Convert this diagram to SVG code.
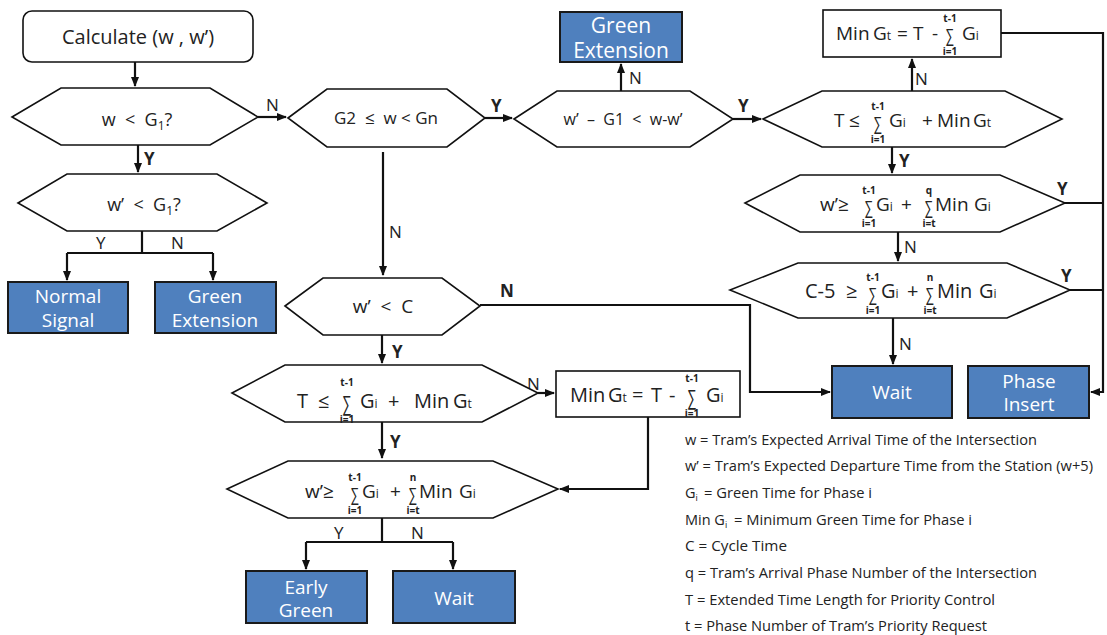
<svg xmlns="http://www.w3.org/2000/svg" width="1107" height="635" viewBox="0 0 1107 635">
<style>
text{font-family:"Open Sans","Noto Sans","DejaVu Sans",sans-serif;fill:#222;white-space:pre}
.shape{fill:#fff;stroke:#111;stroke-width:1.6}
.blue{fill:#4f80be;stroke:#1a1a1a;stroke-width:2}
.bt{fill:#fff;font-size:19px;text-anchor:middle}
.c{fill:none;stroke:#111;stroke-width:2.2}
.f{font-size:18px}
.s{font-size:12px}
.sig{font-family:"Liberation Sans","DejaVu Sans",sans-serif;font-size:19px;text-anchor:middle}
.lim{font-size:10px;font-weight:bold;text-anchor:middle}
.lb{font-size:17px}
.lbb{font-size:17px;font-weight:bold}
.lg{font-size:14.5px}
.lgs{font-size:9px}
</style>
<defs>
<marker id="ah" markerUnits="userSpaceOnUse" markerWidth="10" markerHeight="10" viewBox="0 0 10 10" refX="9" refY="5" orient="auto">
<path d="M0,1 L10,5 L0,9 Z" fill="#111"/>
</marker>
</defs>

<g id="connectors">
<path class="c" d="M135,62 V86" marker-end="url(#ah)"/>
<path class="c" d="M138,145 V172" marker-end="url(#ah)"/>
<path class="c" d="M142,231 V253 M67,253 H213"/>
<path class="c" d="M67,253 V280" marker-end="url(#ah)"/>
<path class="c" d="M213,253 V280" marker-end="url(#ah)"/>
<path class="c" d="M258,117 H286" marker-end="url(#ah)"/>
<path class="c" d="M485,118 H512" marker-end="url(#ah)"/>
<path class="c" d="M621,91 V64" marker-end="url(#ah)"/>
<path class="c" d="M733,119 H761" marker-end="url(#ah)"/>
<path class="c" d="M912,91 V59" marker-end="url(#ah)"/>
<path class="c" d="M1001,33 H1103 V392 H1091" marker-end="url(#ah)"/>
<path class="c" d="M892,147 V173" marker-end="url(#ah)"/>
<path class="c" d="M1065,203 H1103"/>
<path class="c" d="M898,232 V261" marker-end="url(#ah)"/>
<path class="c" d="M1070,290 H1103"/>
<path class="c" d="M893,318 V364" marker-end="url(#ah)"/>
<path class="c" d="M383,152 V275" marker-end="url(#ah)"/>
<path class="c" d="M480,305 H750 V392 H830" marker-end="url(#ah)"/>
<path class="c" d="M382,335 V363" marker-end="url(#ah)"/>
<path class="c" d="M538,393 H554" marker-end="url(#ah)"/>
<path class="c" d="M382,422 V458" marker-end="url(#ah)"/>
<path class="c" d="M648,417 V489 H560" marker-end="url(#ah)"/>
<path class="c" d="M382,518 V542 M306,542 H453"/>
<path class="c" d="M306,542 V569" marker-end="url(#ah)"/>
<path class="c" d="M453,542 V569" marker-end="url(#ah)"/>
</g>

<g id="labels">
<text class="lb" x="266" y="111">N</text>
<text class="lbb" x="144" y="165">Y</text>
<text class="lb" x="96" y="249">Y</text>
<text class="lb" x="171" y="249">N</text>
<text class="lbb" x="491" y="112">Y</text>
<text class="lb" x="629" y="84">N</text>
<text class="lbb" x="738" y="112">Y</text>
<text class="lb" x="915" y="85">N</text>
<text class="lbb" x="899" y="167">Y</text>
<text class="lbb" x="1057" y="195">Y</text>
<text class="lb" x="904" y="253">N</text>
<text class="lbb" x="1061" y="282">Y</text>
<text class="lb" x="899" y="350">N</text>
<text class="lb" x="389" y="238">N</text>
<text class="lbb" x="500" y="297">N</text>
<text class="lbb" x="392" y="358">Y</text>
<text class="lb" x="527" y="390">N</text>
<text class="lbb" x="390" y="448">Y</text>
<text class="lb" x="334" y="539">Y</text>
<text class="lb" x="411" y="539">N</text>
</g>

<g id="calc">
<rect class="shape" x="23" y="11" width="230" height="51" rx="9"/>
<text x="138" y="44" font-size="20" text-anchor="middle">Calculate (w , w’)</text>
</g>

<g id="d1">
<polygon class="shape" points="12,117 61,88 210,88 258,117 210,145 61,145"/>
<text x="137" y="126" font-size="18" text-anchor="middle">w  &lt;  G<tspan font-size="12" dy="4">1</tspan><tspan dy="-4">?</tspan></text>
</g>

<g id="d2">
<polygon class="shape" points="18,203 67,174 217,174 267,203 217,231 67,231"/>
<text x="144" y="211" font-size="18" text-anchor="middle">w’  &lt;  G<tspan font-size="12" dy="4">1</tspan><tspan dy="-4">?</tspan></text>
</g>

<g id="normal">
<rect class="blue" x="8" y="282" width="120" height="51"/>
<text class="bt" x="68" y="303">Normal</text>
<text class="bt" x="68" y="327">Signal</text>
</g>

<g id="ge1">
<rect class="blue" x="155" y="282" width="121" height="51"/>
<text class="bt" x="215" y="303">Green</text>
<text class="bt" x="215" y="327">Extension</text>
</g>

<g id="d3">
<polygon class="shape" points="288,118 327,89 447,89 485,118 447,147 327,147"/>
<text x="386" y="124" font-size="17" text-anchor="middle">G2  ≤  w &lt; Gn</text>
</g>

<g id="d4">
<polygon class="shape" points="514,119 557,91 690,91 733,119 690,147 557,147"/>
<text x="623" y="125" font-size="16" text-anchor="middle">w’  –  G1  &lt;  w-w’</text>
</g>

<g id="ge2">
<rect class="blue" x="560" y="12" width="122" height="50"/>
<text class="bt" x="621" y="33" style="font-size:21px">Green</text>
<text class="bt" x="621" y="58" style="font-size:21px">Extension</text>
</g>

<g id="d5">
<polygon class="shape" points="763,119 822,91 1005,91 1062,119 1005,147 822,147"/>
<text class="f" y="127" style="font-size:19px"><tspan x="834">T</tspan><tspan x="849">≤</tspan><tspan x="889">G</tspan><tspan class="s">i</tspan><tspan x="922">+</tspan><tspan x="937">Min</tspan><tspan x="973">G</tspan><tspan class="s">t</tspan></text>
<text class="sig" transform="translate(878,130) scale(0.65,1)">∑</text>
<text class="lim" x="878" y="110">t-1</text>
<text class="lim" x="878" y="143">i=1</text>
</g>

<g id="mingt1">
<rect class="shape" x="823" y="10" width="178" height="47"/>
<text class="f" y="40" style="font-size:19px"><tspan x="836">Min</tspan><tspan x="873">G</tspan><tspan class="s">t</tspan><tspan x="897">=</tspan><tspan x="913">T</tspan><tspan x="932">-</tspan><tspan x="962">G</tspan><tspan class="s">i</tspan></text>
<text class="sig" transform="translate(950,42) scale(0.65,1)">∑</text>
<text class="lim" x="950" y="22">t-1</text>
<text class="lim" x="950" y="55">i=1</text>
</g>

<g id="d6">
<polygon class="shape" points="745,203 800,175 1000,175 1065,203 1000,232 800,232"/>
<text class="f" y="211" style="font-size:19px"><tspan x="820">w’≥</tspan><tspan x="876">G</tspan><tspan class="s">i</tspan><tspan x="901">+</tspan><tspan x="935">Min</tspan><tspan x="974">G</tspan><tspan class="s">i</tspan></text>
<text class="sig" transform="translate(869,214) scale(0.65,1)">∑</text>
<text class="lim" x="869" y="194">t-1</text>
<text class="lim" x="869" y="227">i=1</text>
<text class="sig" transform="translate(929,214) scale(0.65,1)">∑</text>
<text class="lim" x="929" y="194">q</text>
<text class="lim" x="929" y="227">i=t</text>
</g>

<g id="d7">
<polygon class="shape" points="730,290 798,263 1007,263 1070,290 1007,318 798,318"/>
<text class="f" y="298" style="font-size:20px"><tspan x="805">C-5</tspan><tspan x="846">≥</tspan><tspan x="881">G</tspan><tspan class="s">i</tspan><tspan x="907">+</tspan><tspan x="937">Min</tspan><tspan x="979">G</tspan><tspan class="s">i</tspan></text>
<text class="sig" transform="translate(873,301) scale(0.65,1)">∑</text>
<text class="lim" x="873" y="281">t-1</text>
<text class="lim" x="873" y="314">i=1</text>
<text class="sig" transform="translate(930,301) scale(0.65,1)">∑</text>
<text class="lim" x="930" y="281">n</text>
<text class="lim" x="930" y="314">i=t</text>
</g>

<g id="wait1">
<rect class="blue" x="832" y="366" width="120" height="52"/>
<text class="bt" x="892" y="399">Wait</text>
</g>

<g id="phase">
<rect class="blue" x="968" y="366" width="121" height="52"/>
<text class="bt" x="1029" y="388">Phase</text>
<text class="bt" x="1029" y="411">Insert</text>
</g>

<g id="d8">
<polygon class="shape" points="285,306 323,278 442,278 480,306 442,335 323,335"/>
<text x="383" y="313" font-size="19" text-anchor="middle">w’  &lt;  C</text>
</g>

<g id="d9">
<polygon class="shape" points="232,393 285,365 482,365 538,393 482,422 285,422"/>
<text class="f" y="408" style="font-size:20px"><tspan x="297">T</tspan><tspan x="318">≤</tspan><tspan x="360">G</tspan><tspan class="s">i</tspan><tspan x="388">+</tspan><tspan x="414">Min</tspan><tspan x="453">G</tspan><tspan class="s">t</tspan></text>
<text class="sig" transform="translate(347,411) scale(0.6,1)" style="font-size:22px">∑</text>
<text class="lim" x="347" y="386">t-1</text>
<text class="lim" x="347" y="423">i=1</text>
</g>

<g id="mingt2">
<rect class="shape" x="556" y="371" width="184" height="46"/>
<text class="f" y="402" style="font-size:20px"><tspan x="570">Min</tspan><tspan x="608">G</tspan><tspan class="s">t</tspan><tspan x="632">=</tspan><tspan x="651">T</tspan><tspan x="669">-</tspan><tspan x="706">G</tspan><tspan class="s">i</tspan></text>
<text class="sig" transform="translate(692,405) scale(0.6,1)" style="font-size:22px">∑</text>
<text class="lim" x="692" y="382">t-1</text>
<text class="lim" x="692" y="417">i=1</text>
</g>

<g id="d10">
<polygon class="shape" points="227,489 288,461 493,461 558,489 493,518 288,518"/>
<text class="f" y="498" style="font-size:19px"><tspan x="305">w’≥</tspan><tspan x="362">G</tspan><tspan class="s">i</tspan><tspan x="390">+</tspan><tspan x="419">Min</tspan><tspan x="459">G</tspan><tspan class="s">i</tspan></text>
<text class="sig" transform="translate(355,501) scale(0.65,1)">∑</text>
<text class="lim" x="355" y="481">t-1</text>
<text class="lim" x="355" y="514">i=1</text>
<text class="sig" transform="translate(413,501) scale(0.65,1)">∑</text>
<text class="lim" x="413" y="481">n</text>
<text class="lim" x="413" y="514">i=t</text>
</g>

<g id="early">
<rect class="blue" x="246" y="571" width="121" height="52"/>
<text class="bt" x="306" y="594">Early</text>
<text class="bt" x="306" y="617">Green</text>
</g>

<g id="wait2">
<rect class="blue" x="393" y="571" width="122" height="52"/>
<text class="bt" x="454" y="605">Wait</text>
</g>

<g id="legend">
<text class="lg" x="685" y="445" textLength="352" lengthAdjust="spacingAndGlyphs">w = Tram’s Expected Arrival Time of the Intersection</text>
<text class="lg" x="685" y="471" textLength="408" lengthAdjust="spacingAndGlyphs">w’ = Tram’s Expected Departure Time from the Station (w+5)</text>
<text class="lg" x="685" y="498">G<tspan class="lgs" dy="3">i</tspan><tspan x="704" dy="-3" textLength="168" lengthAdjust="spacingAndGlyphs">= Green Time for Phase i</tspan></text>
<text class="lg" x="685" y="525">Min G<tspan class="lgs" dy="3">i</tspan><tspan x="734" dy="-3" textLength="238" lengthAdjust="spacingAndGlyphs">= Minimum Green Time for Phase i</tspan></text>
<text class="lg" x="685" y="551" textLength="102" lengthAdjust="spacingAndGlyphs">C = Cycle Time</text>
<text class="lg" x="685" y="578" textLength="352" lengthAdjust="spacingAndGlyphs">q = Tram’s Arrival Phase Number of the Intersection</text>
<text class="lg" x="685" y="605" textLength="310" lengthAdjust="spacingAndGlyphs">T = Extended Time Length for Priority Control</text>
<text class="lg" x="685" y="631" textLength="302" lengthAdjust="spacingAndGlyphs">t = Phase Number of Tram’s Priority Request</text>
</g>
</svg>
